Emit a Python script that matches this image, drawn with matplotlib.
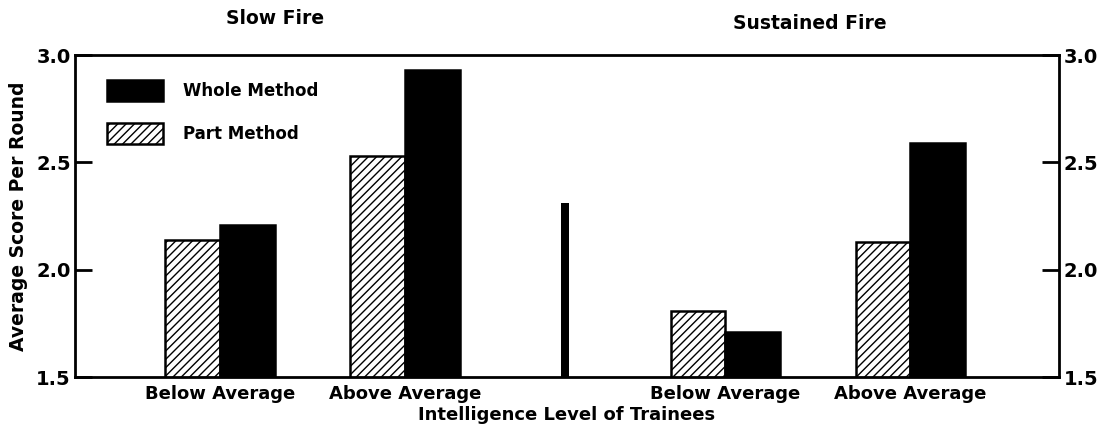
import matplotlib
matplotlib.use("Agg")
import matplotlib.pyplot as plt

# ---- data ----
panels = ["Slow Fire", "Sustained Fire"]
categories = ["Below Average", "Above Average", "Below Average", "Above Average"]
part_method = [2.14, 2.53, 1.81, 2.13]
whole_method = [2.21, 2.93, 1.71, 2.59]
divider_value = 2.31
yticks = [1.5, 2.0, 2.5, 3.0]
ytick_labels = ["1.5", "2.0", "2.5", "3.0"]

# ---- layout ----
positions = [0.0, 1.0, 2.73, 3.73]
divider_pos = 1.865
bar_w = 0.295

plt.rcParams['font.family'] = ['DejaVu Sans']
plt.rcParams['hatch.linewidth'] = 1.0

fig = plt.figure(figsize=(11.01, 4.38), dpi=100)
ax = fig.add_axes([0.068, 0.139, 0.894, 0.735])

ax.bar([p - bar_w / 2 for p in positions], part_method, width=bar_w,
       color="white", edgecolor="black", hatch="////", linewidth=1.8,
       label="Part Method")
ax.bar([p + bar_w / 2 for p in positions], whole_method, width=bar_w,
       color="black", edgecolor="black", linewidth=1.8, label="Whole Method")
ax.bar([divider_pos], [divider_value], width=0.04, color="black")

ax.set_ylim(1.5, 3.0)
ax.set_xlim(-0.784, 4.535)
ax.set_yticks(yticks)
ax.set_yticklabels(ytick_labels, fontsize=14, fontweight="bold")
ax.tick_params(axis="y", direction="in", length=12, width=2,
               left=True, right=True, labelleft=True, labelright=True, pad=3)
ax.set_xticks(positions)
ax.set_xticklabels(categories, fontsize=13, fontweight="bold")
ax.tick_params(axis="x", length=0, pad=6)
for s in ax.spines.values():
    s.set_linewidth(2)

ax.set_xlabel("Intelligence Level of Trainees", fontsize=13,
              fontweight="bold", labelpad=2)
ax.set_ylabel("Average Score Per Round", fontsize=13.5, fontweight="bold",
              labelpad=6)

# panel titles
ax.text(0.30, 1.085, panels[0],
        transform=ax.get_xaxis_transform(), ha="center", va="bottom",
        fontsize=13.5, fontweight="bold")
ax.text(3.19, 1.07, panels[1],
        transform=ax.get_xaxis_transform(), ha="center", va="bottom",
        fontsize=13.5, fontweight="bold")

leg = ax.legend(handles=[ax.containers[1], ax.containers[0]],
                loc="upper left", bbox_to_anchor=(0.017, 0.97),
                frameon=False, prop={"weight": "bold", "size": 12},
                handlelength=3.4, handleheight=1.6, labelspacing=1.3,
                handletextpad=1.2)

fig.savefig("out.png", dpi=100)
